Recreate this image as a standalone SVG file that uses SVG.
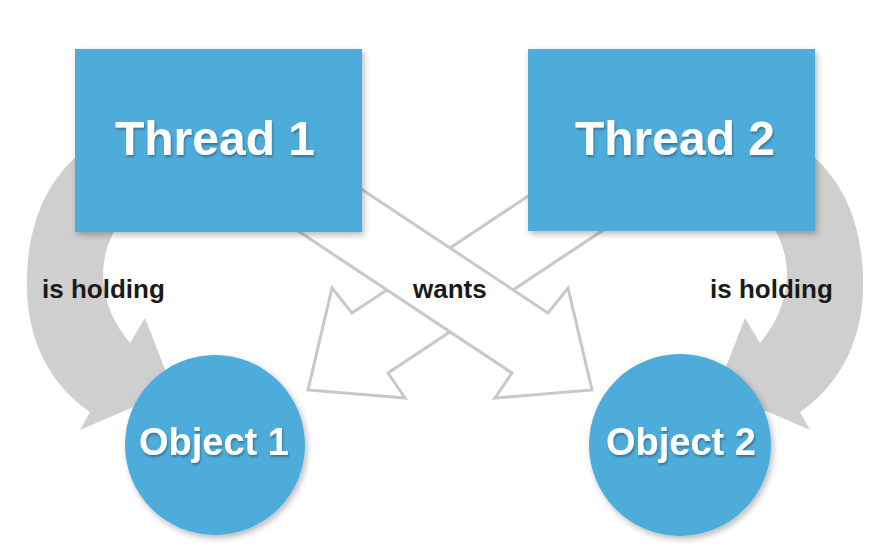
<svg xmlns="http://www.w3.org/2000/svg" width="885" height="549" viewBox="0 0 885 549">
  <defs>
    <filter id="boxShadow" x="-10%" y="-10%" width="125%" height="130%">
      <feDropShadow dx="2" dy="3" stdDeviation="3" flood-color="#000" flood-opacity="0.28"/>
    </filter>
    <filter id="textShadow" x="-10%" y="-20%" width="120%" height="150%">
      <feDropShadow dx="1" dy="2" stdDeviation="1" flood-color="#1d4a66" flood-opacity="0.55"/>
    </filter>
    <!-- thick curved "is holding" arrow, drawn for the left side -->
    <path id="holdArrow" d="M 100,140 C 55,165 25,215 27,290 C 28,340 50,385 90,412 L 80,430 L 173,390 L 145,318 L 130,343 C 110,320 100,290 104,262 C 107,240 120,215 140,200 Z"/>
  </defs>
  <style>
    .hold { fill: #cfcfcf; }
    .want { fill: #ffffff; stroke: #c8c8c8; stroke-width: 3; stroke-linejoin: miter; }
    .box { fill: #4eacd9; filter: url(#boxShadow); }
    .title { font-family: "Liberation Sans", Arial, sans-serif; font-weight: bold; fill: #ffffff; text-anchor: middle; filter: url(#textShadow); }
    .label { font-family: "Liberation Sans", Arial, sans-serif; font-weight: bold; font-size: 26px; fill: #1a1a1a; }
  </style>

  <rect width="885" height="549" fill="#ffffff"/>

  <g id="connectors">
    <use href="#holdArrow" class="hold"/>
    <use href="#holdArrow" class="hold" transform="translate(890,0) scale(-1,1)"/>
    <!-- Thread 2 wants Object 1 -->
    <path class="want" d="M 560,175 L 352,313 L 332,288 L 308,390 L 405,398 L 388,373 L 638,207 Z"/>
    <!-- Thread 1 wants Object 2 -->
    <path class="want" d="M 340,175 L 548,313 L 568,288 L 592,390 L 495,398 L 512,373 L 262,207 Z"/>
    <text class="label" x="42" y="298">is holding</text>
    <text class="label" x="413" y="298">wants</text>
    <text class="label" x="710" y="298">is holding</text>
  </g>

  <g id="thread1">
    <rect class="box" x="75" y="49" width="287" height="183"/>
    <text class="title" x="215" y="155" font-size="48">Thread 1</text>
  </g>
  <g id="thread2">
    <rect class="box" x="528" y="49" width="287" height="182"/>
    <text class="title" x="675" y="155" font-size="48">Thread 2</text>
  </g>
  <g id="object1">
    <circle class="box" cx="215" cy="445" r="90"/>
    <text class="title" x="214" y="455" font-size="38">Object 1</text>
  </g>
  <g id="object2">
    <circle class="box" cx="680" cy="445" r="91"/>
    <text class="title" x="681" y="455" font-size="38">Object 2</text>
  </g>
</svg>
